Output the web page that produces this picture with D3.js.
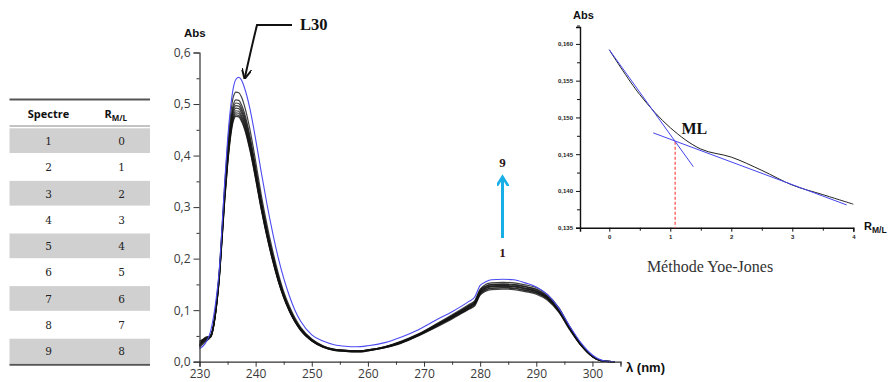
<!DOCTYPE html>
<html><head><meta charset="utf-8">
<script src="https://cdn.jsdelivr.net/npm/d3@7"></script>
<style>body{margin:0;background:#fff}svg{display:block}</style>
</head><body>
<svg id="c" width="891" height="382"></svg>
<script>
// ---------- DATA ----------
const wavelengths = [230,231,232,233,233.5,234,234.5,235,235.5,236,236.5,237,237.5,238,239,240,241,242,243,244,245,246,247,248,250,
  252,254,256,258,260,263,266,269,272,275,278,279,280,281,282,284,286,288,290,292,294,296,298,300,302,304];
const l30 = [0.025,0.035,0.06,0.125,0.175,0.26,0.35,0.43,0.49,0.53,0.548,0.552,0.546,0.532,0.49,0.432,0.368,0.307,0.252,0.203,0.162,0.128,0.1,0.079,0.052,
  0.04,0.033,0.03,0.029,0.031,0.037,0.048,0.062,0.08,0.097,0.117,0.125,0.148,0.155,0.159,0.16,0.159,0.153,0.145,0.13,0.104,0.068,0.036,0.013,0.002,0];
const spectrum1 = [0.033,0.040,0.048,0.105,0.157,0.233,0.314,0.381,0.433,0.466,0.476,0.475,0.466,0.452,0.409,0.354,0.295,0.243,0.197,0.157,0.124,0.098,0.077,0.061,0.04,
  0.028,0.022,0.02,0.019,0.021,0.027,0.036,0.05,0.066,0.083,0.102,0.108,0.129,0.137,0.14,0.141,0.14,0.136,0.131,0.119,0.096,0.061,0.031,0.01,0.001,0];
const spectrum2 = [0.030,0.044,0.048,0.105,0.158,0.235,0.316,0.383,0.436,0.469,0.479,0.478,0.469,0.455,0.412,0.356,0.297,0.244,0.198,0.158,0.125,0.099,0.078,0.061,0.04,
  0.028,0.022,0.02,0.019,0.021,0.027,0.037,0.051,0.067,0.085,0.103,0.11,0.131,0.139,0.142,0.143,0.142,0.138,0.133,0.121,0.097,0.062,0.031,0.01,0.001,0];
const spectrum3 = [0.038,0.046,0.049,0.106,0.159,0.237,0.319,0.386,0.44,0.473,0.483,0.482,0.473,0.459,0.415,0.359,0.299,0.246,0.2,0.159,0.126,0.1,0.078,0.062,0.041,
  0.029,0.023,0.021,0.02,0.022,0.027,0.037,0.051,0.068,0.085,0.104,0.111,0.132,0.14,0.143,0.144,0.143,0.139,0.134,0.122,0.098,0.063,0.031,0.01,0.001,0];
const spectrum4 = [0.028,0.038,0.049,0.107,0.161,0.239,0.321,0.39,0.443,0.477,0.487,0.486,0.477,0.463,0.419,0.362,0.302,0.248,0.202,0.161,0.127,0.1,0.079,0.062,0.041,
  0.029,0.023,0.021,0.02,0.022,0.028,0.038,0.052,0.069,0.086,0.105,0.112,0.134,0.142,0.145,0.146,0.145,0.141,0.136,0.123,0.099,0.064,0.032,0.01,0.001,0];
const spectrum5 = [0.036,0.043,0.05,0.108,0.162,0.241,0.325,0.394,0.448,0.482,0.492,0.491,0.482,0.467,0.423,0.366,0.305,0.251,0.204,0.162,0.128,0.101,0.08,0.063,0.041,
  0.029,0.023,0.021,0.02,0.022,0.028,0.038,0.052,0.069,0.087,0.106,0.113,0.135,0.143,0.146,0.147,0.146,0.142,0.137,0.124,0.1,0.064,0.032,0.01,0.001,0];
const spectrum6 = [0.032,0.047,0.05,0.109,0.164,0.244,0.328,0.398,0.452,0.487,0.497,0.496,0.487,0.472,0.427,0.37,0.308,0.253,0.206,0.164,0.129,0.102,0.081,0.064,0.042,
  0.03,0.023,0.021,0.02,0.022,0.028,0.038,0.052,0.069,0.088,0.107,0.114,0.136,0.144,0.147,0.148,0.147,0.143,0.138,0.125,0.101,0.064,0.032,0.01,0.001,0];
const spectrum7 = [0.04,0.045,0.051,0.11,0.166,0.246,0.331,0.402,0.457,0.492,0.502,0.501,0.492,0.477,0.432,0.373,0.311,0.256,0.208,0.166,0.131,0.103,0.081,0.064,0.042,
  0.03,0.024,0.022,0.021,0.023,0.029,0.039,0.053,0.07,0.089,0.108,0.115,0.138,0.146,0.149,0.15,0.149,0.145,0.14,0.126,0.102,0.065,0.033,0.01,0.001,0];
const spectrum8 = [0.03,0.041,0.051,0.112,0.168,0.249,0.335,0.406,0.462,0.498,0.508,0.507,0.498,0.483,0.437,0.378,0.315,0.259,0.21,0.168,0.132,0.105,0.082,0.065,0.043,
  0.03,0.024,0.022,0.021,0.023,0.029,0.039,0.053,0.071,0.089,0.109,0.116,0.139,0.147,0.15,0.151,0.15,0.146,0.141,0.127,0.103,0.066,0.033,0.01,0.001,0];
const spectrum9 = [0.034,0.044,0.052,0.115,0.173,0.256,0.345,0.418,0.476,0.513,0.523,0.522,0.513,0.497,0.45,0.389,0.324,0.267,0.217,0.173,0.136,0.108,0.085,0.067,0.044,
  0.031,0.024,0.022,0.021,0.023,0.029,0.04,0.054,0.072,0.091,0.111,0.118,0.141,0.15,0.153,0.154,0.153,0.149,0.144,0.13,0.105,0.067,0.034,0.01,0.001,0];
const spectra = [spectrum1,spectrum2,spectrum3,spectrum4,spectrum5,spectrum6,spectrum7,spectrum8,spectrum9];

const xTicks = [230,240,250,260,270,280,290,300];
const yTicks = [0,0.1,0.2,0.3,0.4,0.5,0.6];

// table
const tableSpectre = ["1","2","3","4","5","6","7","8","9"];
const tableRatio = ["0","1","2","3","4","5","6","7","8"];

// inset (Yoe-Jones)
const insetR = [0,0.5,1,1.5,2,2.5,3,3.5,4];
const insetAbs = [0.1592,0.1531,0.1486,0.1457,0.1446,0.1428,0.1408,0.1395,0.1382];
const tangentSteep = [[0,0.1592],[1.377,0.1433]];
const tangentFlat = [[0.72,0.1479],[3.89,0.1381]];
const molarRatio = [1.08, 0.1467];
const insetXTicks = [0,1,2,3,4];
const insetYTicks = [0.135,0.140,0.145,0.150,0.155,0.160];

// ---------- DRAW ----------
const svg = d3.select("#c");
const fmt = d => d3.format(".1f")(d).replace(".", ",");
const fmt3 = d => d3.format(".3f")(d).replace(".", ",");

// main chart
const x = d3.scaleLinear().domain([230,305]).range([199.5,620.5]);
const y = d3.scaleLinear().domain([0,0.6]).range([361.7,52.5]);
const g = svg.append("g");

const line = d3.line().x((d,i)=>x(wavelengths[i])).y(d=>y(d)).curve(d3.curveMonotoneX);
g.selectAll("path.spec").data(spectra).join("path").attr("class","spec")
  .attr("d", line).attr("fill","none").attr("stroke","#111").attr("stroke-width",1.2).attr("stroke-opacity",0.8);
g.append("path").attr("d", line(l30)).attr("fill","none").attr("stroke","#4b4bf2").attr("stroke-width",1.1);

// axes
const axisCol = "#333";
const xAxis = g.append("g").attr("transform",`translate(0,${y(0)})`)
  .call(d3.axisBottom(x).tickValues(xTicks).tickSize(5).tickPadding(3).tickFormat(d3.format("d")));
const xMinor = g.append("g").attr("transform",`translate(0,${y(0)})`)
  .call(d3.axisBottom(x).tickValues([235,245,255,265,275,285,295,305]).tickSize(3).tickFormat(""));
const yAxis = g.append("g").attr("transform",`translate(${x(230)},0)`)
  .call(d3.axisLeft(y).tickValues(yTicks).tickSize(6).tickPadding(3).tickFormat(fmt));
const yMinor = g.append("g").attr("transform",`translate(${x(230)},0)`)
  .call(d3.axisLeft(y).tickValues([0.05,0.15,0.25,0.35,0.45,0.55]).tickSize(3).tickFormat(""));
[xAxis,xMinor,yAxis,yMinor].forEach(a=>{
  a.select(".domain").attr("stroke",axisCol).attr("stroke-width",1.2);
  a.selectAll(".tick line").attr("stroke",axisCol).attr("stroke-width",1);
  a.selectAll("text").attr("font-family","'Open Sans', sans-serif").attr("font-size",12).attr("fill","#3a3a3a");
});
xMinor.select(".domain").remove(); yMinor.select(".domain").remove();

g.append("text").attr("x",184).attr("y",37).text("Abs")
  .attr("font-family","'Liberation Sans', Arial, sans-serif").attr("font-weight","bold").attr("font-size",11.5).attr("fill","#111");
g.append("text").attr("x",626).attr("y",372).text("λ (nm)")
  .attr("font-family","'Liberation Sans', Arial, sans-serif").attr("font-weight","bold").attr("font-size",13).attr("fill","#111");

// L30 annotation
svg.append("defs").html(`
 <marker id="ah" viewBox="0 0 10 10" refX="8" refY="5" markerWidth="5" markerHeight="5" orient="auto-start-reverse">
   <path d="M0,0 L10,5 L0,10" fill="none" stroke="#111" stroke-width="2"/></marker>
 <marker id="ab" viewBox="0 0 10 10" refX="7" refY="5" markerWidth="4" markerHeight="4" orient="auto">
   <path d="M0,0 L8,5 L0,10" fill="none" stroke="#18aee6" stroke-width="2.2"/></marker>`);
g.append("path").attr("d","M292,25 L257,25 Q252,45 245,77").attr("fill","none")
  .attr("stroke","#111").attr("stroke-width",2).attr("marker-end","url(#ah)");
g.append("text").attr("x",300).attr("y",30).text("L30")
  .attr("font-family","'Liberation Serif', 'Times New Roman', serif").attr("font-weight","bold").attr("font-size",16.5).attr("fill","#111");

// 1 -> 9 arrow
g.append("line").attr("x1",502.5).attr("y1",238).attr("x2",502.5).attr("y2",178)
  .attr("stroke","#18aee6").attr("stroke-width",3).attr("marker-end","url(#ab)");
g.append("text").attr("x",502.5).attr("y",166.5).attr("text-anchor","middle").text("9")
  .attr("font-family","'Liberation Serif', serif").attr("font-weight","bold").attr("font-size",13).attr("fill","#2a1414");
g.append("text").attr("x",502.5).attr("y",256.5).attr("text-anchor","middle").text("1")
  .attr("font-family","'Liberation Serif', serif").attr("font-weight","bold").attr("font-size",13).attr("fill","#3a1212");

// ---------- TABLE ----------
const t = svg.append("g");
const rowTop = 127.5, rowH = 26.3;
tableSpectre.forEach((s,i)=>{
  if (i%2===0) t.append("rect").attr("x",9.5).attr("y",rowTop+i*rowH+0.8).attr("width",140.5).attr("height",rowH-1.6).attr("fill","#d0d0d0");
  t.append("text").attr("x",48.5).attr("y",rowTop+i*rowH+rowH/2+4.3).attr("text-anchor","middle").text(s)
    .attr("font-family","'DejaVu Serif', serif").attr("font-size",10.5).attr("fill","#222");
  t.append("text").attr("x",121.5).attr("y",rowTop+i*rowH+rowH/2+4.3).attr("text-anchor","middle").text(tableRatio[i])
    .attr("font-family","'DejaVu Serif', serif").attr("font-size",10.5).attr("fill","#222");
});
t.append("line").attr("x1",9.5).attr("x2",150).attr("y1",99.5).attr("y2",99.5).attr("stroke","#555").attr("stroke-width",2);
t.append("line").attr("x1",9.5).attr("x2",150).attr("y1",126).attr("y2",126).attr("stroke","#888").attr("stroke-width",1);
t.append("line").attr("x1",9.5).attr("x2",150).attr("y1",rowTop+9*rowH+0.5).attr("y2",rowTop+9*rowH+0.5).attr("stroke","#555").attr("stroke-width",2);
t.append("text").attr("x",48.5).attr("y",118).attr("text-anchor","middle").text("Spectre")
  .attr("font-family","'Open Sans', sans-serif").attr("font-weight","bold").attr("font-size",11).attr("fill","#111");
const hdr = t.append("text").attr("x",104.5).attr("y",118)
  .attr("font-family","'Open Sans', sans-serif").attr("font-weight","bold").attr("font-size",11).attr("fill","#111");
hdr.append("tspan").text("R");
hdr.append("tspan").attr("dy",3).attr("font-size",8).text("M/L");

// ---------- INSET ----------
const ix = d3.scaleLinear().domain([-0.48,4]).range([580,853.3]);
const iy = d3.scaleLinear().domain([0.135,0.1623]).range([227.7,27]);
const ins = svg.append("g");
const ixA = ins.append("g").attr("transform",`translate(0,${iy(0.135)})`)
  .call(d3.axisBottom(ix).tickValues(insetXTicks).tickSize(4).tickPadding(3).tickFormat(d3.format("d")));
const ixM = ins.append("g").attr("transform",`translate(0,${iy(0.135)})`)
  .call(d3.axisBottom(ix).tickValues([0.5,1.5,2.5,3.5]).tickSize(3).tickFormat(""));
const iyA = ins.append("g").attr("transform",`translate(${ix(-0.48)},0)`)
  .call(d3.axisLeft(iy).tickValues(insetYTicks).tickSize(4).tickPadding(3).tickFormat(fmt3));
const iyM = ins.append("g").attr("transform",`translate(${ix(-0.48)},0)`)
  .call(d3.axisLeft(iy).tickValues([0.1375,0.1425,0.1475,0.1525,0.1575,0.1625]).tickSize(3).tickFormat(""));
[ixA,ixM,iyA,iyM].forEach(a=>{
  a.select(".domain").attr("stroke","#111").attr("stroke-width",1.4);
  a.selectAll(".tick line").attr("stroke","#111").attr("stroke-width",1);
  a.selectAll("text").attr("font-family","'Liberation Sans', Arial, sans-serif").attr("font-weight","bold").attr("font-size",6).attr("fill","#222");
});
ixM.select(".domain").remove(); iyM.select(".domain").remove();

ins.append("line").attr("x1",ix(molarRatio[0])).attr("x2",ix(molarRatio[0])).attr("y1",iy(molarRatio[1])).attr("y2",iy(0.135))
  .attr("stroke","#ff6b6b").attr("stroke-width",1.5).attr("stroke-dasharray","3,2");
const il = d3.line().x(d=>ix(d[0])).y(d=>iy(d[1]));
ins.append("path").attr("d", il.curve(d3.curveCatmullRom)(insetR.map((r,i)=>[r,insetAbs[i]]))).attr("fill","none")
  .attr("stroke","#222").attr("stroke-width",1);
il.curve(d3.curveLinear);
ins.append("path").attr("d", il(tangentSteep)).attr("fill","none").attr("stroke","#4444ee").attr("stroke-width",1);
ins.append("path").attr("d", il(tangentFlat)).attr("fill","none").attr("stroke","#4444ee").attr("stroke-width",1);

ins.append("text").attr("x",681.5).attr("y",134).text("ML")
  .attr("font-family","'Liberation Serif', serif").attr("font-weight","bold").attr("font-size",16).attr("fill","#111");
ins.append("text").attr("x",573).attr("y",19).text("Abs")
  .attr("font-family","'Liberation Sans', Arial, sans-serif").attr("font-weight","bold").attr("font-size",11).attr("fill","#111");
const rl = ins.append("text").attr("x",864).attr("y",230)
  .attr("font-family","'Liberation Sans', Arial, sans-serif").attr("font-weight","bold").attr("font-size",11).attr("fill","#111");
rl.append("tspan").text("R");
rl.append("tspan").attr("dy",3).attr("font-size",8.5).text("M/L");
ins.append("text").attr("x",710).attr("y",272).attr("text-anchor","middle").text("Méthode Yoe-Jones")
  .attr("font-family","'Liberation Serif', 'Times New Roman', serif").attr("font-size",16).attr("fill","#333");
</script>
</body></html>
